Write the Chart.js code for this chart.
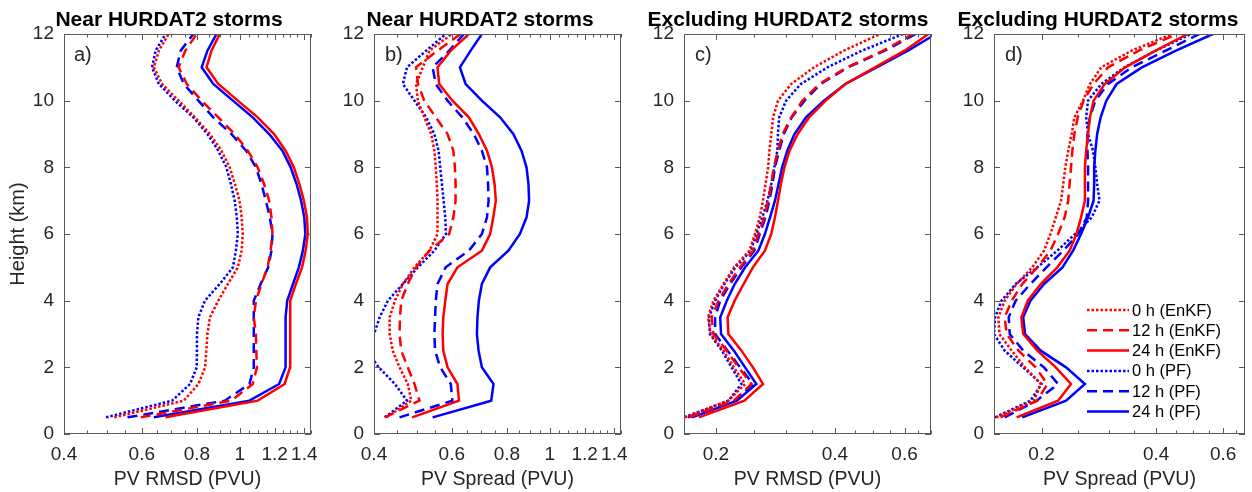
<!DOCTYPE html>
<html>
<head>
<meta charset="utf-8">
<script src="https://cdn.jsdelivr.net/npm/chart.js@4.4.0/dist/chart.umd.min.js"></script>
<style>
  body { margin: 0; background: #fff; width: 1252px; height: 492px; position: relative; overflow: hidden;
         font-family: "Liberation Sans", Arial, sans-serif; }
  canvas { position: absolute; top: 0; }
  .title { position: absolute; top: 7px; font-weight: bold; font-size: 21px; line-height: 24px; color: #000;
           white-space: nowrap; transform: translateX(-50%); }
  .tag { position: absolute; top: 42px; font-size: 20px; line-height: 24px; color: #262626; }
</style>
</head>
<body>
<canvas id="panel-a" width="320" height="492" style="left:0px"></canvas>
<canvas id="panel-b" width="316" height="492" style="left:314px"></canvas>
<canvas id="panel-c" width="316" height="492" style="left:624px"></canvas>
<canvas id="panel-d" width="317" height="492" style="left:934px"></canvas>

<div class="title" style="left:169px">Near HURDAT2 storms</div>
<div class="title" style="left:480px">Near HURDAT2 storms</div>
<div class="title" style="left:788px">Excluding HURDAT2 storms</div>
<div class="title" style="left:1098px">Excluding HURDAT2 storms</div>
<div class="tag" style="left:74px">a)</div>
<div class="tag" style="left:385px">b)</div>
<div class="tag" style="left:695px">c)</div>
<div class="tag" style="left:1005px">d)</div>

<script>
// vertical levels (km)
const heights = [0.5, 1, 1.5, 2, 2.5, 3, 3.5, 4, 4.5, 5, 5.5, 6, 6.5, 7, 7.5, 8, 8.5, 9, 9.5, 10, 10.5, 11, 11.5, 12];

// x tick positions and the ones that get a label
const ticksNear = [0.4, 0.45, 0.5, 0.55, 0.6, 0.65, 0.7, 0.75, 0.8, 0.85, 0.9, 0.95, 1, 1.05, 1.1, 1.15, 1.2, 1.25, 1.3, 1.35, 1.4, 1.45];
const labelsNear = [0.4, 0.6, 0.8, 1, 1.2, 1.4];
const ticksExclC = [0.2, 0.25, 0.3, 0.35, 0.4, 0.45, 0.5, 0.55, 0.6, 0.65, 0.7];
const ticksExclD = [0.15, 0.2, 0.25, 0.3, 0.35, 0.4, 0.45, 0.5, 0.55, 0.6, 0.65];
const labelsExcl = [0.2, 0.4, 0.6];
const yTicks = [0, 2, 4, 6, 8, 10, 12];

// a) PV RMSD near storms
const rmsdNearEnkf0  = [0.52, 0.747, 0.806, 0.835, 0.84, 0.845, 0.856, 0.894, 0.94, 0.99, 1.01, 1.016, 1.01, 0.999, 0.975, 0.949, 0.909, 0.856, 0.792, 0.727, 0.667, 0.639, 0.656, 0.69];
const rmsdNearEnkf12 = [0.597, 0.957, 1.07, 1.094, 1.09, 1.088, 1.076, 1.088, 1.12, 1.156, 1.175, 1.186, 1.18, 1.166, 1.135, 1.098, 1.043, 0.974, 0.894, 0.82, 0.759, 0.727, 0.753, 0.799];
const rmsdNearEnkf24 = [0.679, 1.098, 1.264, 1.3, 1.3, 1.3, 1.3, 1.304, 1.34, 1.384, 1.41, 1.426, 1.42, 1.397, 1.365, 1.326, 1.27, 1.196, 1.098, 0.99, 0.894, 0.841, 0.863, 0.901];
const rmsdNearPf0    = [0.498, 0.703, 0.772, 0.799, 0.8, 0.8, 0.806, 0.834, 0.901, 0.965, 0.98, 0.99, 0.985, 0.974, 0.955, 0.933, 0.894, 0.845, 0.785, 0.713, 0.656, 0.633, 0.645, 0.679];
const rmsdNearPf12   = [0.557, 0.925, 1.052, 1.076, 1.076, 1.076, 1.076, 1.076, 1.115, 1.16, 1.18, 1.186, 1.17, 1.146, 1.12, 1.088, 1.034, 0.957, 0.871, 0.806, 0.747, 0.72, 0.735, 0.785];
const rmsdNearPf24   = [0.639, 1.052, 1.228, 1.27, 1.27, 1.27, 1.27, 1.281, 1.32, 1.361, 1.39, 1.408, 1.4, 1.377, 1.345, 1.304, 1.249, 1.166, 1.07, 0.965, 0.871, 0.82, 0.845, 0.886];

// b) PV spread near storms
const sprdNearEnkf0  = [0.427, 0.486, 0.477, 0.457, 0.441, 0.434, 0.434, 0.446, 0.465, 0.494, 0.534, 0.557, 0.557, 0.557, 0.555, 0.552, 0.548, 0.539, 0.52, 0.503, 0.498, 0.516, 0.534, 0.6];
const sprdNearEnkf12 = [0.423, 0.507, 0.494, 0.477, 0.461, 0.457, 0.458, 0.461, 0.477, 0.498, 0.534, 0.592, 0.605, 0.612, 0.612, 0.61, 0.605, 0.587, 0.552, 0.52, 0.503, 0.498, 0.557, 0.628];
const sprdNearEnkf24 = [0.488, 0.623, 0.618, 0.587, 0.574, 0.572, 0.574, 0.58, 0.587, 0.618, 0.702, 0.733, 0.745, 0.755, 0.75, 0.74, 0.721, 0.691, 0.656, 0.602, 0.562, 0.557, 0.597, 0.656];
const sprdNearPf0    = [0.423, 0.475, 0.446, 0.41, 0.385, 0.4, 0.412, 0.43, 0.465, 0.503, 0.548, 0.582, 0.58, 0.575, 0.57, 0.565, 0.56, 0.548, 0.525, 0.494, 0.465, 0.475, 0.525, 0.582];
const sprdNearPf12   = [0.457, 0.602, 0.597, 0.565, 0.55, 0.548, 0.55, 0.552, 0.557, 0.581, 0.656, 0.702, 0.721, 0.727, 0.725, 0.721, 0.702, 0.673, 0.634, 0.587, 0.552, 0.543, 0.592, 0.639];
const sprdNearPf24   = [0.543, 0.737, 0.746, 0.702, 0.69, 0.684, 0.686, 0.691, 0.702, 0.733, 0.806, 0.856, 0.886, 0.898, 0.895, 0.886, 0.863, 0.827, 0.772, 0.702, 0.645, 0.626, 0.662, 0.702];

// c) PV RMSD excluding storms
const rmsdExclEnkf0  = [0.167, 0.215, 0.237, 0.222, 0.209, 0.194, 0.191, 0.197, 0.209, 0.222, 0.243, 0.251, 0.258, 0.263, 0.267, 0.271, 0.273, 0.276, 0.279, 0.287, 0.31, 0.354, 0.421, 0.52];
const rmsdExclEnkf12 = [0.171, 0.222, 0.246, 0.228, 0.213, 0.197, 0.195, 0.203, 0.215, 0.23, 0.248, 0.256, 0.265, 0.271, 0.276, 0.28, 0.287, 0.295, 0.31, 0.331, 0.365, 0.429, 0.53, 0.63];
const rmsdExclEnkf24 = [0.181, 0.236, 0.263, 0.248, 0.232, 0.215, 0.214, 0.223, 0.235, 0.248, 0.266, 0.276, 0.282, 0.287, 0.292, 0.298, 0.307, 0.322, 0.344, 0.379, 0.425, 0.505, 0.6, 0.69];
const rmsdExclPf0    = [0.166, 0.215, 0.232, 0.219, 0.207, 0.193, 0.192, 0.199, 0.21, 0.224, 0.245, 0.253, 0.262, 0.27, 0.276, 0.281, 0.286, 0.287, 0.289, 0.301, 0.328, 0.383, 0.468, 0.595];
const rmsdExclPf12   = [0.17, 0.224, 0.248, 0.23, 0.214, 0.199, 0.199, 0.205, 0.217, 0.232, 0.25, 0.258, 0.267, 0.273, 0.278, 0.282, 0.289, 0.297, 0.311, 0.335, 0.368, 0.432, 0.535, 0.64];
const rmsdExclPf24   = [0.174, 0.226, 0.253, 0.237, 0.222, 0.206, 0.205, 0.213, 0.223, 0.237, 0.256, 0.266, 0.274, 0.282, 0.288, 0.294, 0.303, 0.316, 0.338, 0.375, 0.425, 0.51, 0.612, 0.72];

// d) PV spread excluding storms
const sprdExclEnkf0  = [0.152, 0.191, 0.199, 0.181, 0.167, 0.155, 0.154, 0.16, 0.172, 0.189, 0.203, 0.211, 0.218, 0.225, 0.228, 0.231, 0.235, 0.24, 0.244, 0.257, 0.268, 0.287, 0.345, 0.44];
const sprdExclEnkf12 = [0.156, 0.195, 0.207, 0.193, 0.174, 0.162, 0.16, 0.167, 0.178, 0.195, 0.211, 0.221, 0.23, 0.235, 0.237, 0.239, 0.241, 0.244, 0.249, 0.258, 0.274, 0.299, 0.36, 0.455];
const sprdExclEnkf24 = [0.172, 0.221, 0.239, 0.218, 0.195, 0.179, 0.177, 0.184, 0.199, 0.22, 0.237, 0.247, 0.254, 0.26, 0.26, 0.26, 0.262, 0.265, 0.268, 0.274, 0.293, 0.332, 0.399, 0.484];
const sprdExclPf0    = [0.151, 0.187, 0.2, 0.179, 0.16, 0.15, 0.151, 0.157, 0.171, 0.195, 0.22, 0.245, 0.271, 0.284, 0.28, 0.277, 0.273, 0.265, 0.262, 0.265, 0.287, 0.33, 0.399, 0.494];
const sprdExclPf12   = [0.16, 0.194, 0.221, 0.203, 0.179, 0.165, 0.164, 0.171, 0.187, 0.206, 0.228, 0.25, 0.263, 0.265, 0.265, 0.265, 0.264, 0.264, 0.268, 0.277, 0.299, 0.345, 0.424, 0.52];
const sprdExclPf24   = [0.178, 0.232, 0.26, 0.232, 0.199, 0.181, 0.179, 0.187, 0.203, 0.227, 0.242, 0.254, 0.265, 0.274, 0.275, 0.275, 0.277, 0.28, 0.286, 0.296, 0.315, 0.367, 0.451, 0.564];

const seriesLabels = ['0 h (EnKF)', '12 h (EnKF)', '24 h (EnKF)', '0 h (PF)', '12 h (PF)', '24 h (PF)'];

const RED = '#ff0000';
const BLUE = '#0000ff';
const DOTTED = [2.5, 2];
const DASHED = [10, 6];
const SOLID = [];
const lineLook = [
    [RED, DOTTED], [RED, DASHED], [RED, SOLID],
    [BLUE, DOTTED], [BLUE, DASHED], [BLUE, SOLID]
];

const TEXT = '#262626';
Chart.defaults.font.family = "'Liberation Sans', Arial, sans-serif";
Chart.defaults.color = TEXT;

// box around the axes with inward tick marks on all four sides
const frameTicks = {
    id: 'frameTicks',
    afterDatasetsDraw(chart, args, opts) {
        const { ctx, chartArea: { left, right, top, bottom }, scales: { x, y } } = chart;
        ctx.save();
        ctx.strokeStyle = opts.color;
        ctx.lineWidth = 1;
        ctx.beginPath();
        x.ticks.forEach(t => {
            const px = Math.round(x.getPixelForValue(t.value)) + 0.5;
            const len = opts.major.includes(t.value) ? 6 : 3.5;
            ctx.moveTo(px, bottom); ctx.lineTo(px, bottom - len);
            ctx.moveTo(px, top); ctx.lineTo(px, top + len);
        });
        y.ticks.forEach(t => {
            const py = Math.round(y.getPixelForValue(t.value)) + 0.5;
            ctx.moveTo(left, py); ctx.lineTo(left + 6, py);
            ctx.moveTo(right, py); ctx.lineTo(right - 6, py);
        });
        ctx.stroke();
        ctx.strokeRect(Math.round(left) + 0.5, Math.round(top) + 0.5,
                       Math.round(right - left) - 1, Math.round(bottom - top) - 1);
        ctx.restore();
    }
};

// legend drawn inside the plot area, line sample then label
const innerLegend = {
    id: 'innerLegend',
    afterDraw(chart, args, opts) {
        if (!opts.display) return;
        const { ctx, chartArea } = chart;
        ctx.save();
        ctx.font = `${opts.fontSize}px ${Chart.defaults.font.family}`;
        ctx.fillStyle = '#000';
        ctx.textBaseline = 'middle';
        chart.data.datasets.forEach((ds, i) => {
            const y0 = chartArea.top + opts.top + i * opts.rowGap;
            const x0 = chartArea.left + opts.left;
            ctx.strokeStyle = ds.borderColor;
            ctx.lineWidth = ds.borderWidth;
            ctx.setLineDash(ds.borderDash);
            ctx.beginPath();
            ctx.moveTo(x0, y0);
            ctx.lineTo(x0 + opts.sample, y0);
            ctx.stroke();
            ctx.setLineDash([]);
            ctx.fillText(ds.label, x0 + opts.sample + 3, y0 + 1);
        });
        ctx.restore();
    }
};

function buildDatasets(seriesList) {
    return seriesList.map((values, i) => ({
        label: seriesLabels[i],
        data: heights.map((h, k) => ({ x: values[k], y: h })),
        borderColor: lineLook[i][0],
        borderDash: lineLook[i][1],
        borderWidth: 2.5,
        pointRadius: 0,
        tension: 0,
        fill: false
    }));
}

function makePanel(id, cfg) {
    return new Chart(document.getElementById(id), {
        type: 'line',
        plugins: [frameTicks, innerLegend],
        data: { datasets: buildDatasets(cfg.series) },
        options: {
            responsive: false,
            animation: false,
            events: [],
            indexAxis: 'y',
            layout: { padding: { top: 34, right: cfg.rightPad, bottom: 0, left: 0 } },
            scales: {
                x: {
                    type: 'logarithmic',
                    min: cfg.xMin,
                    max: cfg.xMax,
                    bounds: 'data',
                    grid: { display: false, drawTicks: false },
                    border: { display: false },
                    afterBuildTicks: scale => {
                        scale.ticks = cfg.xTicks.map(v => ({ value: v }));
                    },
                    afterFit: scale => { scale.height = 58; },
                    ticks: {
                        autoSkip: false,
                        maxRotation: 0,
                        minRotation: 0,
                        padding: 9,
                        color: TEXT,
                        font: { size: 19 },
                        callback: value => cfg.xLabels.includes(value) ? String(value) : ''
                    },
                    title: {
                        display: true,
                        text: cfg.xTitle,
                        color: TEXT,
                        font: { size: 19.5 },
                        padding: { top: 0, bottom: 1 }
                    }
                },
                y: {
                    type: 'linear',
                    min: 0,
                    max: 12,
                    grid: { display: false, drawTicks: false },
                    border: { display: false },
                    afterBuildTicks: scale => {
                        scale.ticks = yTicks.map(v => ({ value: v }));
                    },
                    afterFit: scale => { scale.width = cfg.yWidth; },
                    ticks: {
                        padding: 10,
                        color: TEXT,
                        font: { size: 19 }
                    },
                    title: {
                        display: !!cfg.yTitle,
                        text: cfg.yTitle || '',
                        color: TEXT,
                        font: { size: 20 },
                        padding: { top: 6, bottom: 0 }
                    }
                }
            },
            plugins: {
                legend: { display: false },
                tooltip: { enabled: false },
                frameTicks: { color: '#5a5a5a', major: cfg.xLabels },
                innerLegend: {
                    display: !!cfg.legend,
                    left: 93, top: 276, rowGap: 20.3, sample: 42, fontSize: 16.5
                }
            }
        }
    });
}

makePanel('panel-a', {
    series: [rmsdNearEnkf0, rmsdNearEnkf12, rmsdNearEnkf24, rmsdNearPf0, rmsdNearPf12, rmsdNearPf24],
    xMin: 0.4, xMax: 1.45, xTicks: ticksNear, xLabels: labelsNear,
    xTitle: 'PV RMSD (PVU)', yTitle: 'Height (km)', yWidth: 64, rightPad: 6
});
makePanel('panel-b', {
    series: [sprdNearEnkf0, sprdNearEnkf12, sprdNearEnkf24, sprdNearPf0, sprdNearPf12, sprdNearPf24],
    xMin: 0.4, xMax: 1.45, xTicks: ticksNear, xLabels: labelsNear,
    xTitle: 'PV Spread (PVU)', yWidth: 60, rightPad: 6
});
makePanel('panel-c', {
    series: [rmsdExclEnkf0, rmsdExclEnkf12, rmsdExclEnkf24, rmsdExclPf0, rmsdExclPf12, rmsdExclPf24],
    xMin: 0.166, xMax: 0.7, xTicks: ticksExclC, xLabels: labelsExcl,
    xTitle: 'PV RMSD (PVU)', yWidth: 60, rightPad: 6
});
makePanel('panel-d', {
    series: [sprdExclEnkf0, sprdExclEnkf12, sprdExclEnkf24, sprdExclPf0, sprdExclPf12, sprdExclPf24],
    xMin: 0.15, xMax: 0.685, xTicks: ticksExclD, xLabels: labelsExcl,
    xTitle: 'PV Spread (PVU)', yWidth: 60, rightPad: 6, legend: true
});
</script>
</body>
</html>
